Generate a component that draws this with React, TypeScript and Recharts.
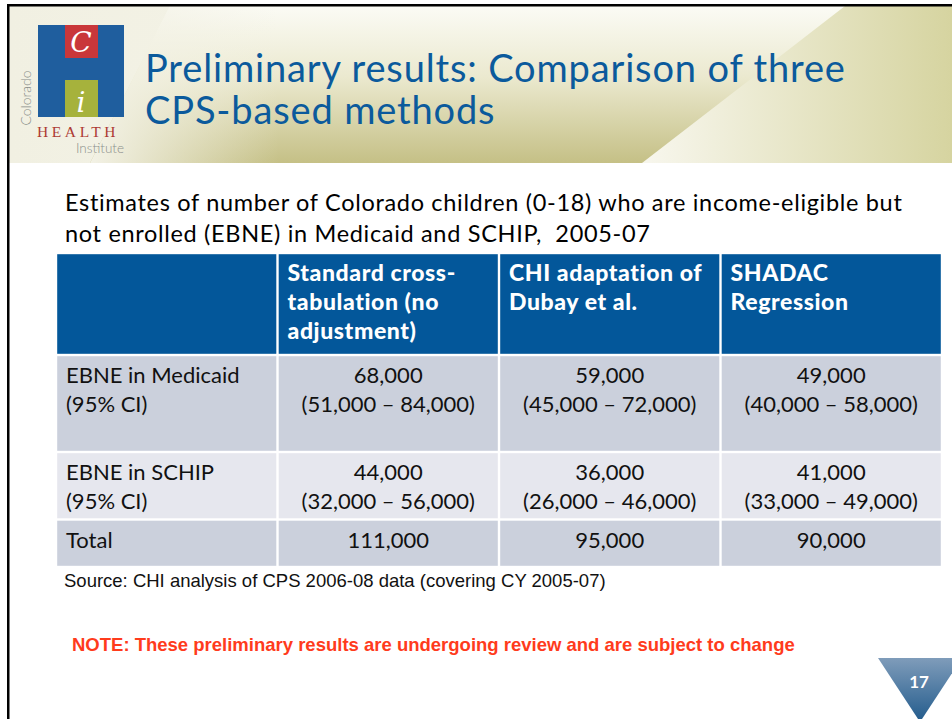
import { ComposedChart, ReferenceArea, XAxis, YAxis } from 'recharts';

// table content
const columnHeaders: string[][] = [
  ['Standard cross-', 'tabulation (no', 'adjustment)'],
  ['CHI adaptation of', 'Dubay et al.'],
  ['SHADAC', 'Regression'],
];
const rowLabels: string[][] = [
  ['EBNE in Medicaid', '(95% CI)'],
  ['EBNE in SCHIP', '(95% CI)'],
  ['Total'],
];
const medicaidEstimate: number[] = [68000, 59000, 49000];
const medicaidLow: number[] = [51000, 45000, 40000];
const medicaidHigh: number[] = [84000, 72000, 58000];
const schipEstimate: number[] = [44000, 36000, 41000];
const schipLow: number[] = [32000, 26000, 33000];
const schipHigh: number[] = [56000, 46000, 49000];
const totalEstimate: number[] = [111000, 95000, 90000];

// layout
const TABLE_W = 886;
const ROW_HEIGHTS = [102, 97, 67.5, 47.5];
const TABLE_H = ROW_HEIGHTS.reduce((a, b) => a + b, 0);
const ROW_FILLS = ['#03579a', '#cbd0dc', '#e6e7ee', '#cbd0dc'];
const FONT = 'Lato, "Open Sans", sans-serif';
const ARIAL = "'Liberation Sans', Arial, sans-serif";

const fmt = (n: number) => n.toLocaleString('en-US');
const range = (lo: number, hi: number) => `(${fmt(lo)} \u2013 ${fmt(hi)})`;

interface CellSpec {
  key: string;
  x1: number;
  x2: number;
  y1: number;
  y2: number;
  fill: string;
  lines: string[];
  header: boolean;
  centered: boolean;
}

function buildCells(): CellSpec[] {
  const bodyRows: string[][][] = [
    [rowLabels[0]!, ...medicaidEstimate.map((v, i) => [fmt(v), range(medicaidLow[i]!, medicaidHigh[i]!)])],
    [rowLabels[1]!, ...schipEstimate.map((v, i) => [fmt(v), range(schipLow[i]!, schipHigh[i]!)])],
    [rowLabels[2]!, ...totalEstimate.map((v) => [fmt(v)])],
  ];
  const allRows: string[][][] = [[[], ...columnHeaders], ...bodyRows];
  const cells: CellSpec[] = [];
  let top = 0;
  allRows.forEach((row, r) => {
    const bottom = top + ROW_HEIGHTS[r]!;
    row.forEach((lines, c) => {
      cells.push({
        key: `${r}-${c}`,
        x1: c,
        x2: c + 1,
        y1: top,
        y2: bottom,
        fill: ROW_FILLS[r]!,
        lines,
        header: r === 0,
        centered: r > 0 && c > 0,
      });
    });
    top = bottom;
  });
  return cells;
}

const cells = buildCells();

function renderCell(cell: CellSpec) {
  return (props: any) => {
    const { x, y, width, height } = props;
    const tx = cell.centered ? x + width / 2 : x + 10;
    return (
      <g>
        <rect x={x + 1.2} y={y + 1.2} width={width - 2.4} height={height - 2.4} fill={cell.fill} />
        <text
          x={tx}
          y={y + 28}
          textAnchor={cell.centered ? 'middle' : 'start'}
          fontFamily={FONT}
          fontSize={cell.header ? 23 : 22}
          fontWeight={cell.header ? 900 : 400}
          letterSpacing={cell.header ? 0.6 : 0}
          fill={cell.header ? '#ffffff' : '#111111'}
        >
          {cell.lines.map((line, i) => (
            <tspan key={i} x={tx} dy={i === 0 ? 0 : 29}>
              {line}
            </tspan>
          ))}
        </text>
      </g>
    );
  };
}

function ResultsTable() {
  return (
    <ComposedChart
      width={TABLE_W}
      height={TABLE_H}
      data={[{ x: 0, y: 0 }]}
      margin={{ top: 0, right: 0, bottom: 0, left: 0 }}
    >
      <XAxis type="number" dataKey="x" domain={[0, 4]} hide allowDataOverflow />
      <YAxis type="number" dataKey="y" domain={[0, TABLE_H]} reversed hide allowDataOverflow />
      {cells.map((cell) => (
        <ReferenceArea
          key={cell.key}
          x1={cell.x1}
          x2={cell.x2}
          y1={cell.y1}
          y2={cell.y2}
          fill={cell.fill}
          ifOverflow="visible"
          shape={renderCell(cell)}
        />
      ))}
    </ComposedChart>
  );
}

function SlideBackground() {
  return (
    <svg width={952} height={719} style={{ position: 'absolute', left: 0, top: 0 }}>
      <defs>
        <linearGradient id="bandBase" x1="0" y1="0" x2="1" y2="0">
          <stop offset="0" stopColor="#f1f0e2" />
          <stop offset="0.68" stopColor="#f7f6ec" />
          <stop offset="1" stopColor="#d6d4a0" />
        </linearGradient>
        <linearGradient id="bandOlive" x1="0" y1="0" x2="0" y2="1">
          <stop offset="0" stopColor="#fbfbf5" />
          <stop offset="0.45" stopColor="#ebe9cf" />
          <stop offset="1" stopColor="#c5c086" />
        </linearGradient>
        <linearGradient id="bandFade" x1="0" y1="0" x2="1" y2="0">
          <stop offset="0" stopColor="#f3f2e6" stopOpacity="1" />
          <stop offset="0.25" stopColor="#f3f2e6" stopOpacity="0" />
        </linearGradient>
        <linearGradient id="pageTri" x1="0" y1="0" x2="0" y2="1">
          <stop offset="0" stopColor="#7f9cba" />
          <stop offset="1" stopColor="#225b8c" />
        </linearGradient>
      </defs>
      <rect x={0} y={0} width={952} height={719} fill="#ffffff" />
      <rect x={9} y={6} width={943} height={157} fill="url(#bandBase)" />
      <polygon points="170,6 845,6 642,163 90,163" fill="url(#bandOlive)" />
      <polygon points="170,6 845,6 642,163 90,163" fill="url(#bandFade)" />
      {/* frame */}
      <rect x={7} y={4} width={945} height={2.5} fill="#000000" />
      <rect x={7} y={4} width={2.5} height={715} fill="#000000" />

      {/* logo */}
      <rect x={38} y={25} width={86} height={92} fill="#1f5e9e" />
      <rect x={65} y={25} width={33} height={33} fill="#c9373a" />
      <rect x={65} y={80} width={33} height={37} fill="#a6b23c" />
      <text x={81} y={52} textAnchor="middle" fontFamily="'DejaVu Serif', serif" fontStyle="italic" fontSize={28} fill="#ffffff">
        C
      </text>
      <text x={81} y={112} textAnchor="middle" fontFamily="'DejaVu Serif', serif" fontStyle="italic" fontSize={28} fill="#ffffff">
        i
      </text>
      <text
        transform="translate(31,98) rotate(-90)"
        textAnchor="middle"
        fontFamily={FONT}
        fontWeight={300}
        fontSize={14}
        fill="#878c88"
      >
        Colorado
      </text>
      <text x={37} y={137} fontFamily="'Liberation Serif', serif" fontSize={15.5} letterSpacing={3.6} fill="#ad3a33">
        HEALTH
      </text>
      <text x={124} y={153} textAnchor="end" fontFamily={FONT} fontWeight={300} fontSize={13.5} fill="#8c908c">
        Institute
      </text>

      {/* title */}
      <text x={145} y={82} fontFamily={FONT} fontSize={38} letterSpacing={0.85} fill="#0b5a9c">
        Preliminary results: Comparison of three
      </text>
      <text x={145} y={124} fontFamily={FONT} fontSize={38} letterSpacing={0.85} fill="#0b5a9c">
        CPS-based methods
      </text>

      {/* subtitle */}
      <text fontFamily={FONT} fontSize={23.5} letterSpacing={0.68} fill="#000000" style={{ whiteSpace: 'pre' }}>
        <tspan x={65} y={211}>Estimates of number of Colorado children (0-18) who are income-eligible but</tspan>
        <tspan x={65} y={242}>not enrolled (EBNE) in Medicaid and SCHIP,  2005-07</tspan>
      </text>

      <text x={64} y={587} fontFamily={ARIAL} fontSize={18.5} fill="#111111">
        Source: CHI analysis of CPS 2006-08 data (covering CY 2005-07)
      </text>
      <text x={72} y={651} fontFamily={ARIAL} fontWeight={700} fontSize={18.5} fill="#ff3b1c">
        NOTE: These preliminary results are undergoing review and are subject to change
      </text>

      {/* page number */}
      <polygon points="878,658 962,658 920,722" fill="url(#pageTri)" />
      <text x={919} y={688} textAnchor="middle" fontFamily={FONT} fontWeight={700} fontSize={17} fill="#ffffff">
        17
      </text>
    </svg>
  );
}

export default function App() {
  return (
    <div
      style={{
        position: 'absolute',
        left: 0,
        top: 0,
        width: 952,
        height: 719,
        overflow: 'hidden',
        background: '#ffffff',
      }}
    >
      <SlideBackground />
      <div style={{ position: 'absolute', left: 56, top: 253 }}>
        <ResultsTable />
      </div>
    </div>
  );
}
